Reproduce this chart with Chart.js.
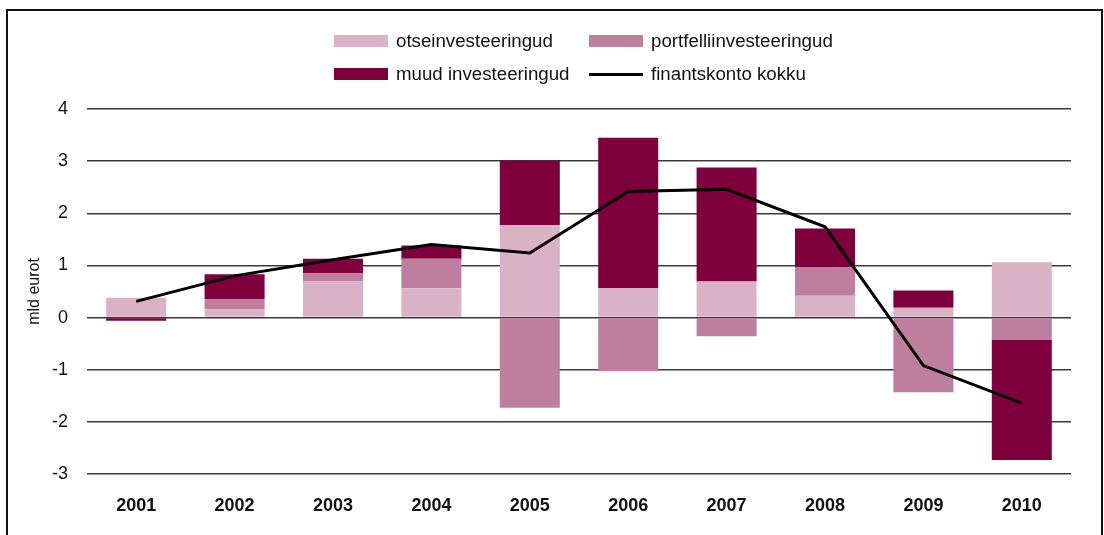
<!DOCTYPE html>
<html>
<head>
<meta charset="utf-8">
<script src="https://cdn.jsdelivr.net/npm/chart.js@4"></script>
<style>
  html, body { margin: 0; padding: 0; background: #fff; }
  body { width: 1104px; height: 535px; position: relative; overflow: hidden; font-family: 'Liberation Sans', Arial, Helvetica, sans-serif; }
  #wrap { position: absolute; left: 0; top: 0; width: 1104px; height: 535px; }
  #frame { position: absolute; left: 6px; top: 9px; width: 1097px; height: 600px; box-sizing: border-box; border: 2px solid #111; pointer-events: none; }
  #legend { position: absolute; left: 334px; top: 30px; display: grid; grid-template-columns: 255px 255px; row-gap: 11px; }
  .item { display: flex; align-items: center; height: 22px; font-size: 18.7px; color: #111; white-space: nowrap; }
  .sw { width: 54px; height: 12px; margin-right: 8px; flex: none; }
  .ln { width: 54px; height: 3px; margin-right: 8px; flex: none; background: #000; }
</style>
</head>
<body>
<div id="wrap"><canvas id="chart" width="1104" height="535"></canvas></div>
<div id="frame"></div>
<div id="legend"></div>
<script>
const aastad = ['2001', '2002', '2003', '2004', '2005', '2006', '2007', '2008', '2009', '2010']
const otse = [0.38, 0.16, 0.69, 0.56, 1.77, 0.56, 0.69, 0.42, 0.19, 1.06]
const portfell = [0, 0.19, 0.16, 0.57, -1.73, -1.03, -0.36, 0.54, -1.43, -0.42]
const muud = [-0.06, 0.48, 0.28, 0.25, 1.24, 2.89, 2.19, 0.75, 0.33, -2.31]
const kokku = [0.31, 0.80, 1.11, 1.40, 1.24, 2.42, 2.46, 1.74, -0.92, -1.64]
const yTicks = [-3, -2, -1, 0, 1, 2, 3, 4]

const varvid = { otse: '#d9b3c5', portfell: '#be7f9e', muud: '#7e003d', kokku: '#000000' }
const font = "'Liberation Sans', Arial, Helvetica, sans-serif"

const ctx = document.getElementById('chart').getContext('2d')
const chart = new Chart(ctx, {
  type: 'bar',
  data: {
    labels: aastad,
    datasets: [
      { label: 'otseinvesteeringud', data: otse, backgroundColor: varvid.otse, order: 1, stack: 'a' },
      { label: 'portfelliinvesteeringud', data: portfell, backgroundColor: varvid.portfell, order: 1, stack: 'a' },
      { label: 'muud investeeringud', data: muud, backgroundColor: varvid.muud, order: 1, stack: 'a' },
      { type: 'line', label: 'finantskonto kokku', data: kokku, borderColor: varvid.kokku, backgroundColor: varvid.kokku, borderWidth: 3, pointRadius: 0, tension: 0, fill: false, order: 0, stack: 'line' }
    ]
  },
  options: {
    responsive: false,
    animation: false,
    maintainAspectRatio: false,
    devicePixelRatio: 1,
    layout: { padding: { top: 109, right: 33, bottom: 19, left: 0 } },
    datasets: { bar: { categoryPercentage: 1, barPercentage: 0.61 } },
    plugins: { legend: { display: false }, tooltip: { enabled: false } },
    scales: {
      x: {
        stacked: true,
        afterFit: (s) => { s.height = 42 },
        grid: { display: false },
        border: { display: false },
        ticks: { color: '#111', padding: 13, font: { family: font, size: 18, weight: 'bold' }, maxRotation: 0 }
      },
      y: {
        stacked: true,
        min: -3,
        max: 4,
        afterFit: (s) => { s.width = 87 },
        afterBuildTicks: (s) => { s.ticks = yTicks.map(v => ({ value: v })) },
        grid: { color: '#3a3a3a', lineWidth: 1.5, drawTicks: false },
        border: { display: false },
        ticks: { color: '#111', padding: 19, font: { family: font, size: 18 } },
        title: { display: true, text: 'mld eurot', color: '#111', font: { family: font, size: 16 }, padding: { top: 25, bottom: 0 } }
      }
    }
  }
})

// legend, two columns like the original
const leg = document.getElementById('legend')
chart.data.datasets.forEach(d => {
  const el = document.createElement('div')
  el.className = 'item'
  const sw = document.createElement('span')
  if (d.type === 'line') { sw.className = 'ln' } else { sw.className = 'sw'; sw.style.background = d.backgroundColor }
  el.appendChild(sw)
  el.appendChild(document.createTextNode(d.label))
  leg.appendChild(el)
})
</script>
</body>
</html>
